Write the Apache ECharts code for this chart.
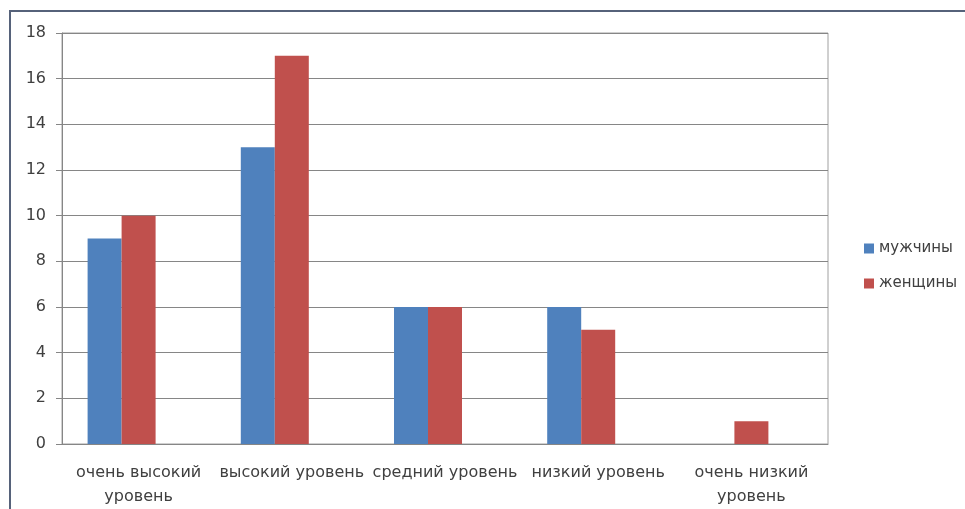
<!DOCTYPE html>
<html>
<head>
<meta charset="utf-8">
<script src="https://cdn.jsdelivr.net/npm/echarts@6/dist/echarts.min.js"></script>
<style>
html, body { margin: 0; padding: 0; background: #fff; }
#canvas { width: 965px; height: 509px; }
</style>
</head>
<body>
<div id="canvas"></div>
<script>
var categories = ['очень высокий\nуровень', 'высокий уровень', 'средний уровень', 'низкий уровень', 'очень низкий\nуровень'];
var men = [9, 13, 6, 6, 0];
var women = [10, 17, 6, 5, 1];
var seriesNames = ['мужчины', 'женщины'];
var yTicks = [0, 18, 2]; // min, max, step

var myChart = echarts.init(document.getElementById('canvas'));
var font = 'DejaVu Sans';
var option = {
    animation: false,
    textStyle: { fontFamily: font },
    graphic: [{
        type: 'rect',
        shape: { x: 10, y: 11, width: 1000, height: 600 },
        style: { fill: 'none', stroke: '#56627a', lineWidth: 2 }
    }],
    grid: {
        left: 62, right: 137, top: 33, bottom: 65,
        show: true, borderColor: '#a0a0a0', borderWidth: 1
    },
    legend: {
        orient: 'vertical',
        left: 859,
        top: 236,
        itemWidth: 10,
        itemHeight: 10,
        itemGap: 20,
        icon: 'rect',
        data: seriesNames,
        textStyle: { fontFamily: font, fontSize: 15, color: '#404040' }
    },
    xAxis: {
        type: 'category',
        data: categories,
        axisLine: { lineStyle: { color: '#868686' } },
        axisTick: { length: 6, lineStyle: { color: '#868686' } },
        axisLabel: { fontFamily: font, fontSize: 16, color: '#404040', margin: 17, lineHeight: 24, interval: 0 }
    },
    yAxis: {
        type: 'value',
        min: yTicks[0], max: yTicks[1], interval: yTicks[2],
        axisLine: { show: true, lineStyle: { color: '#868686' } },
        axisTick: { show: true, length: 6, lineStyle: { color: '#868686' } },
        axisLabel: { fontFamily: font, fontSize: 16, color: '#404040', margin: 16 },
        splitLine: { lineStyle: { color: '#868686' } }
    },
    series: [
        { name: seriesNames[0], type: 'bar', data: men, barWidth: 34, barGap: '0%', itemStyle: { color: '#4f81bd' } },
        { name: seriesNames[1], type: 'bar', data: women, barWidth: 34, barGap: '0%', itemStyle: { color: '#c0504d' } },
        { name: 'пусто', type: 'bar', data: ['-', '-', '-', '-', '-'], barWidth: 34, barGap: '0%' }
    ]
};
myChart.setOption(option);
</script>
</body>
</html>
